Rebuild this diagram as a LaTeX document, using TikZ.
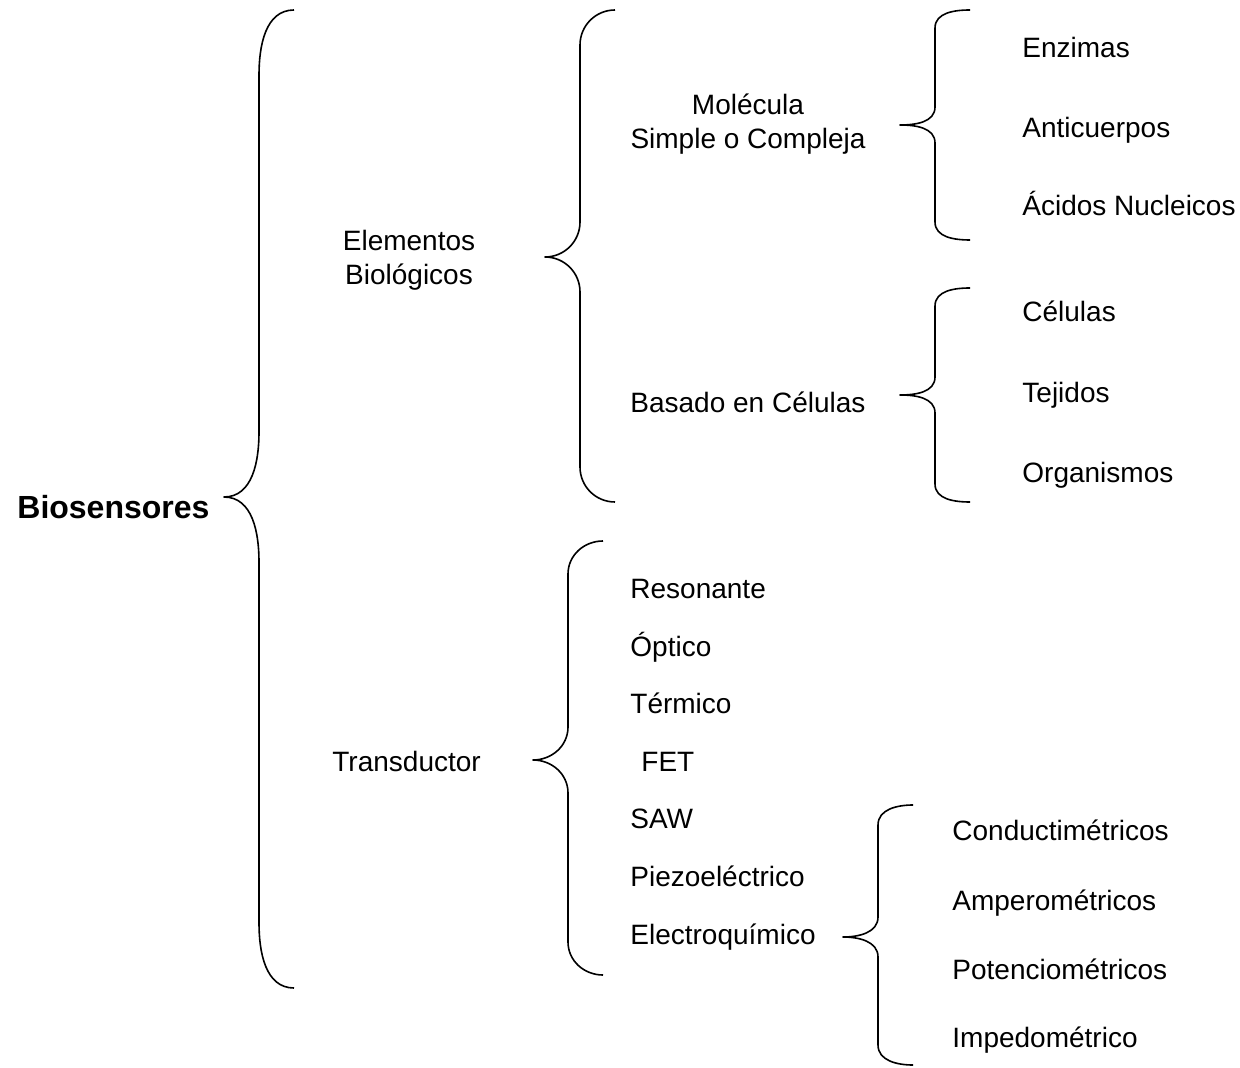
\documentclass[tikz,border=0pt]{standalone}
\usepackage{fontspec}
\setmainfont{Liberation Sans}
\usetikzlibrary{positioning}
\tikzset{
  item/.style={anchor=mid west,inner sep=0pt,yshift=-2.5pt,font=\fontsize{14}{17}\selectfont},
  group/.style={align=center,inner sep=0pt,yshift=-1.5pt,font=\fontsize{14}{17}\selectfont},
  brace line/.style={line width=0.8pt,line join=round}
}
% curly brace: line x, top y, tip y, bottom y, corner height
\newcommand{\curly}[5]{%
  \draw[brace line] (#1+35,#2) to[out=180,in=90] (#1,#2+#5) -- (#1,#3-#5)
    to[out=-90,in=0] (#1-35,#3) to[out=0,in=90] (#1,#3+#5) -- (#1,#4-#5)
    to[out=-90,in=180] (#1+35,#4);}

\begin{document}
\begin{tikzpicture}[x=0.5pt,y=-0.5pt]
  \useasboundingbox (0,0) rectangle (1240,1068);
  \node[item,font=\fontsize{16}{19}\selectfont\bfseries] (bio) at (17,508) {Biosensores};
  \node[group] (elem) at (409,257) {Elementos\\Biológicos};
  \node[item] (trans) at (332,761) {Transductor};
  \node[group] (mol) at (748,121) {Molécula\\Simple o Compleja};
  \node[item] (cel) at (630,402) {Basado en Células};
  \node[item] (enz) at (1022,47) {Enzimas};
  \node[item] (anti) at (1022,127) {Anticuerpos};
  \node[item] (acid) at (1022,205) {Ácidos Nucleicos};
  \node[item] (celu) at (1022,311) {Células};
  \node[item] (tej) at (1022,392) {Tejidos};
  \node[item] (org) at (1022,472) {Organismos};
  \node[item] (res) at (630,588) {Resonante};
  \node[item] (opt) at (630,646) {Óptico};
  \node[item] (ter) at (630,703) {Térmico};
  \node[item] (fet) at (641,761) {FET};
  \node[item] (saw) at (630,818) {SAW};
  \node[item] (pie) at (630,876) {Piezoeléctrico};
  \node[item] (ele) at (630,934) {Electroquímico};
  \node[item] (con) at (952,830) {Conductimétricos};
  \node[item] (amp) at (952,900) {Amperométricos};
  \node[item] (pot) at (952,969) {Potenciométricos};
  \node[item] (imp) at (952,1037) {Impedométrico};
  \curly{259}{10}{497}{988}{65}
  \curly{580}{10}{257}{502}{35}
  \curly{935}{10}{125}{240}{18}
  \curly{935}{288}{395}{502}{18}
  \curly{568}{541}{760}{975}{33}
  \curly{878}{805}{937}{1065}{20}
\end{tikzpicture}
\end{document}
